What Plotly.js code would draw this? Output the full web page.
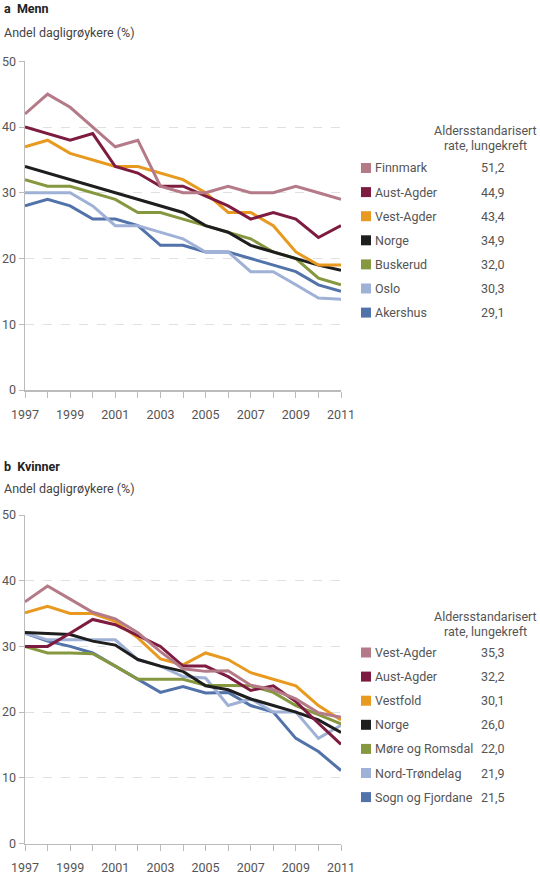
<!DOCTYPE html>
<html>
<head>
<meta charset="utf-8">
<script src="https://cdn.plot.ly/plotly-3.0.1.min.js"></script>
<style>
  html, body { margin: 0; padding: 0; background: #fff; }
  #chart { width: 540px; height: 875px; }
</style>
</head>
<body>
<div id="chart"></div>
<script>
// Daily smokers by county, men (a) and women (b), 1997-2011
const years = [1997, 1998, 1999, 2000, 2001, 2002, 2003, 2004, 2005, 2006, 2007, 2008, 2009, 2010, 2011];

// a Menn
const menNames = ['Finnmark', 'Aust-Agder', 'Vest-Agder', 'Norge', 'Buskerud', 'Oslo', 'Akershus'];
const menRates = ['51,2', '44,9', '43,4', '34,9', '32,0', '30,3', '29,1'];
const finnmarkM = [42, 45, 43, 40, 37, 38, 31, 30, 30, 31, 30, 30, 31, 30, 29];
const austAgderM = [40, 39, 38, 39, 34, 33, 31, 31, 29.5, 28, 26, 27, 26, 23.2, 25];
const vestAgderM = [37, 38, 36, 35, 34, 34, 33, 32, 30, 27, 27, 25, 21, 19, 19];
const norgeM = [34, 33, 32, 31, 30, 29, 28, 27, 25, 24, 22, 21, 20, 19, 18.2];
const buskerudM = [32, 31, 31, 30, 29, 27, 27, 26, 25, 24, 23, 21, 20, 17, 16];
const osloM = [30, 30, 30, 28, 25, 25, 24, 23, 21, 21, 18, 18, 16, 14, 13.8];
const akershusM = [28, 29, 28, 26, 26, 25, 22, 22, 21, 21, 20, 19, 18, 16, 15];

// b Kvinner
const womenNames = ['Vest-Agder', 'Aust-Agder', 'Vestfold', 'Norge', 'Møre og Romsdal', 'Nord-Trøndelag', 'Sogn og Fjordane'];
const womenRates = ['35,3', '32,2', '30,1', '26,0', '22,0', '21,9', '21,5'];
const vestAgderK = [36.8, 39.2, 37.2, 35.2, 34.2, 32.1, 29.2, 26.6, 26.2, 26.3, 24.1, 23.4, 22, 19.9, 19.2];
const austAgderK = [30, 30, 32, 34.1, 33.3, 31.7, 30, 27, 27, 25.4, 23.3, 24, 21.6, 18.3, 15.1];
const vestfoldK = [35.1, 36.1, 35, 35, 33.8, 31.3, 28.1, 27.2, 29, 28, 26, 25, 24, 21, 18.8];
const norgeK = [32.1, 32, 31.8, 30.8, 30.2, 28, 27, 26.2, 24, 23.4, 22, 21, 20, 18.8, 16.9];
const moreK = [30, 29, 29, 28.9, 27, 25, 25, 25, 24.1, 24, 24, 23, 21, 19.6, 18.2];
const nordTrondK = [32, 31, 31, 31, 31, 28, 27, 25.4, 25.2, 21, 22, 20, 20, 16, 18];
const sognK = [32, 30.8, 30, 29, 27, 25, 23, 23.9, 22.9, 23, 21, 20, 16, 14, 11.1];

const colors = ['#b47a88', '#7d1c40', '#e8991f', '#1e1e1e', '#86983f', '#9fb1d6', '#5273aa'];

const menSeries = [finnmarkM, austAgderM, vestAgderM, norgeM, buskerudM, osloM, akershusM];
const womenSeries = [vestAgderK, austAgderK, vestfoldK, norgeK, moreK, nordTrondK, sognK];

const W = 540, H = 875;
const FONT = 'Roboto, "DejaVu Sans", sans-serif';
const px = x => x / W;
const py = y => 1 - y / H;

const traces = [];
function addLines(series, names, xa, ya) {
    // draw in reverse so the first series ends on top
    for (let i = series.length - 1; i >= 0; i--) {
        traces.push({
            x: years,
            y: series[i],
            name: names[i],
            type: 'scatter',
            mode: 'lines',
            line: { color: colors[i], width: 3 },
            xaxis: xa,
            yaxis: ya,
            showlegend: false,
            hoverinfo: 'x+y+name'
        });
    }
}
addLines(menSeries, menNames, 'x', 'y');
addLines(womenSeries, womenNames, 'x2', 'y2');

const tickText = years.map(y => (y % 2 === 1 ? String(y) : ''));

function xAxis(anchor) {
    return {
        domain: [px(25), px(341)],
        range: [1997, 2011],
        anchor: anchor,
        tickvals: years,
        ticktext: tickText,
        ticks: 'outside',
        ticklen: 6,
        tickwidth: 1,
        tickcolor: '#bbb',
        ticklabelstandoff: 6,
        showline: true,
        linecolor: '#bbb',
        linewidth: 1.5,
        showgrid: false,
        zeroline: false,
        tickfont: { family: FONT, size: 12.5, color: '#555' },
        fixedrange: true
    };
}
function yAxis(anchor, top, bottom) {
    return {
        domain: [py(bottom), py(top)],
        range: [0, 50],
        anchor: anchor,
        tickvals: [0, 10, 20, 30, 40, 50],
        ticks: 'outside',
        ticklen: 5,
        tickwidth: 1,
        tickcolor: '#bbb',
        showline: true,
        linecolor: '#bbb',
        linewidth: 1.5,
        showgrid: true,
        gridcolor: '#e0e0e0',
        griddash: 'dash',
        gridwidth: 1,
        zeroline: false,
        tickfont: { family: FONT, size: 12.5, color: '#555' },
        fixedrange: true
    };
}

const annotations = [];
const shapes = [];
function text(x, y, s, opts) {
    annotations.push(Object.assign({
        xref: 'paper', yref: 'paper',
        x: px(x), y: py(y),
        text: s,
        showarrow: false,
        xanchor: 'left', yanchor: 'middle',
        font: { family: FONT, size: 12, color: '#444' }
    }, opts || {}));
}

// panel titles
text(2, 9, '<b>a  Menn</b>', { font: { family: FONT, size: 12.5, color: '#222' } });
text(2, 33, 'Andel dagligrøykere (%)', { font: { family: FONT, size: 12.5, color: '#444' } });
text(2, 466, '<b>b  Kvinner</b>', { font: { family: FONT, size: 12.5, color: '#222' } });
text(2, 488, 'Andel dagligrøykere (%)', { font: { family: FONT, size: 12.5, color: '#444' } });

function legendBlock(names, rates, titleY, firstY) {
    text(485, titleY, 'Aldersstandarisert', { xanchor: 'center', font: { family: FONT, size: 12.5, color: '#555' } });
    text(485, titleY + 15, 'rate, lungekreft', { xanchor: 'center', font: { family: FONT, size: 12.5, color: '#555' } });
    names.forEach((n, i) => {
        const y = firstY + i * 24.1;
        shapes.push({
            type: 'rect', xref: 'paper', yref: 'paper',
            x0: px(361), x1: px(371), y0: py(y - 5), y1: py(y + 5),
            fillcolor: colors[i], line: { width: 0 }
        });
        text(373, y, n, { font: { family: FONT, size: 12.5, color: '#555' } });
        text(493, y, rates[i], { xanchor: 'center', font: { family: FONT, size: 12.5, color: '#555' } });
    });
}
legendBlock(menNames, menRates, 130, 168);
legendBlock(womenNames, womenRates, 616, 652.5);

const layout = {
    width: W,
    height: H,
    margin: { l: 0, r: 0, t: 0, b: 0 },
    paper_bgcolor: '#fff',
    plot_bgcolor: 'rgba(0,0,0,0)',
    showlegend: false,
    xaxis: xAxis('y'),
    yaxis: yAxis('x', 61.3, 390),
    xaxis2: xAxis('y2'),
    yaxis2: yAxis('x2', 515, 843.5),
    annotations: annotations,
    shapes: shapes,
    font: { family: FONT }
};

Plotly.newPlot('chart', traces, layout, { displayModeBar: false, staticPlot: true });
</script>
</body>
</html>
